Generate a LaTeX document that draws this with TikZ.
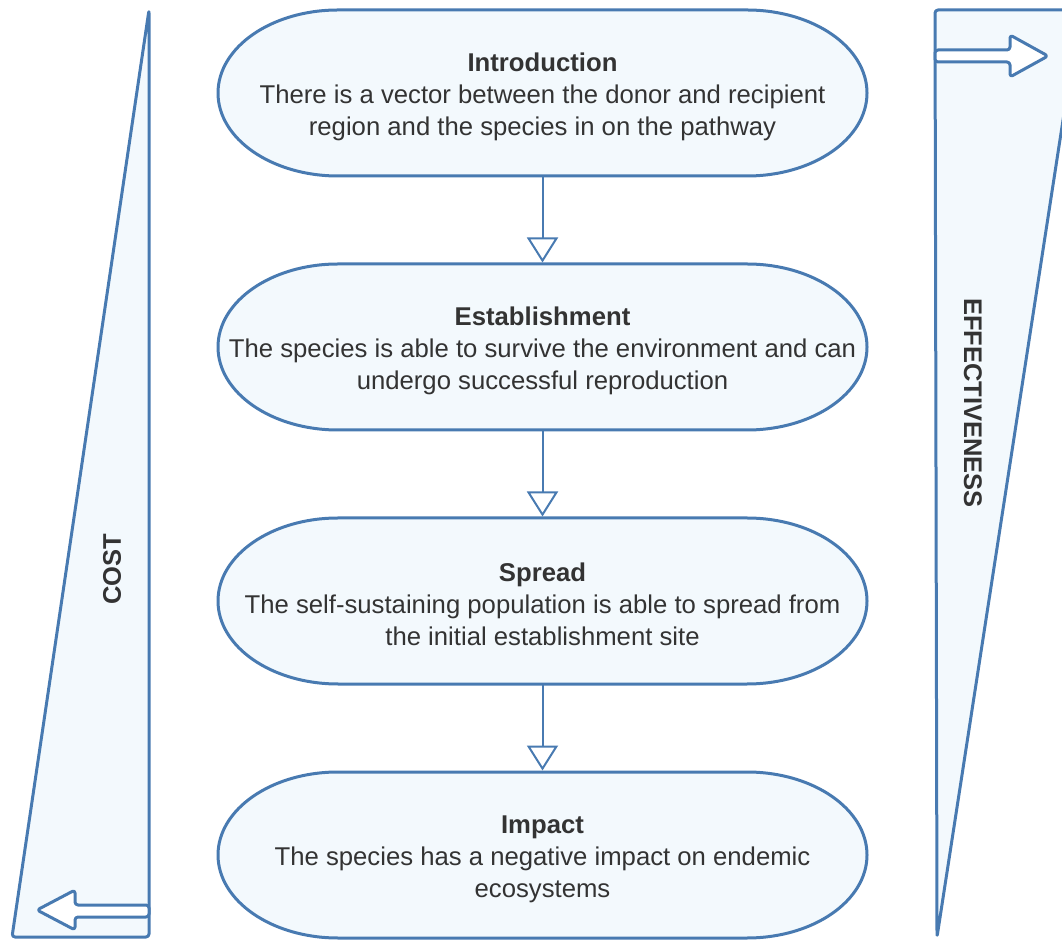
\documentclass[tikz,border=0pt]{standalone}
\usepackage{fontspec}
\setmainfont{Liberation Sans}
\usetikzlibrary{arrows.meta,backgrounds}

\definecolor{edgeblue}{RGB}{72,122,177}
\definecolor{paleblue}{RGB}{243,249,253}
\definecolor{inkgray}{RGB}{51,51,51}

\tikzset{
  stagetext/.style={inner sep=0pt, outer sep=0pt, minimum width=649pt,
    minimum height=166pt, align=center, text=inkgray,
    font=\fontsize{25.7}{32}\selectfont},
  capsuleline/.style={draw=edgeblue, fill=paleblue, line width=3pt},
  wedgeline/.style={draw=edgeblue, fill=paleblue, line width=3pt,
    line join=round, rounded corners=3pt},
  blockarrow/.style={draw=edgeblue, fill=white, line width=3pt,
    line join=round, rounded corners=3pt},
  flow/.style={draw=edgeblue, line width=2pt,
    -{Triangle[open, width=31pt, length=25pt, line width=2pt]}, shorten >=1.5pt},
  sidelabel/.style={text=inkgray, font=\bfseries\fontsize{25.5}{30}\selectfont,
    inner sep=0pt}
}

% stadium outline with half-elliptical ends around a stage node
\newcommand{\capsuleround}[1]{%
  \path[capsuleline] ([xshift=120pt]#1.north west) -- ([xshift=-120pt]#1.north east)
    arc[start angle=90, end angle=-90, x radius=120pt, y radius=83pt]
    -- ([xshift=120pt]#1.south west)
    arc[start angle=270, end angle=90, x radius=120pt, y radius=83pt] -- cycle;}
% title line with a little extra headroom
\newcommand{\stagetitle}[1]{\rule{0pt}{25.5pt}\textbf{#1}}

\begin{document}
\begin{tikzpicture}[x=1pt,y=1pt]
\useasboundingbox (0,0) rectangle (1062,940);

% side wedges
\path[wedgeline] (149,930) -- (149,3) -- (12,3) -- cycle;
\path[wedgeline] (935,930) -- (1080,930) -- (937,3) -- cycle;

% block arrows in the wedges
\path[blockarrow] (149,35) -- (75,35) -- (75,50) -- (37,30) -- (75,10)
  -- (75,23) -- (149,23) -- cycle;
\path[blockarrow] (935,890) -- (1010,890) -- (1010,905) -- (1048,884)
  -- (1010,863) -- (1010,878) -- (935,878) -- cycle;

% wedge labels
\node[sidelabel, rotate=90] (cost) at (112,371) {COST};
\node[sidelabel, rotate=-90] (eff) at (973,537) {EFFECTIVENESS};

% stages
\node[stagetext] (intro) at (542.5,847) {\stagetitle{Introduction}\\There is a vector between the donor and recipient\\region and the species in on the pathway};
\node[stagetext] (estab) at (542.5,593) {\stagetitle{Establishment}\\The species is able to survive the environment and can\\undergo successful reproduction};
\node[stagetext] (spread) at (542.5,339) {\stagetitle{Spread}\\The self-sustaining population is able to spread from\\the initial establishment site};
\node[stagetext] (impact) at (542.5,85) {\stagetitle{Impact}\\The species has a negative impact on endemic\\ecosystems};

\begin{scope}[on background layer]
  \capsuleround{intro}
  \capsuleround{estab}
  \capsuleround{spread}
  \capsuleround{impact}
\end{scope}

% connectors
\draw[flow] (intro.south) -- (estab.north);
\draw[flow] (estab.south) -- (spread.north);
\draw[flow] (spread.south) -- (impact.north);
\end{tikzpicture}
\end{document}
